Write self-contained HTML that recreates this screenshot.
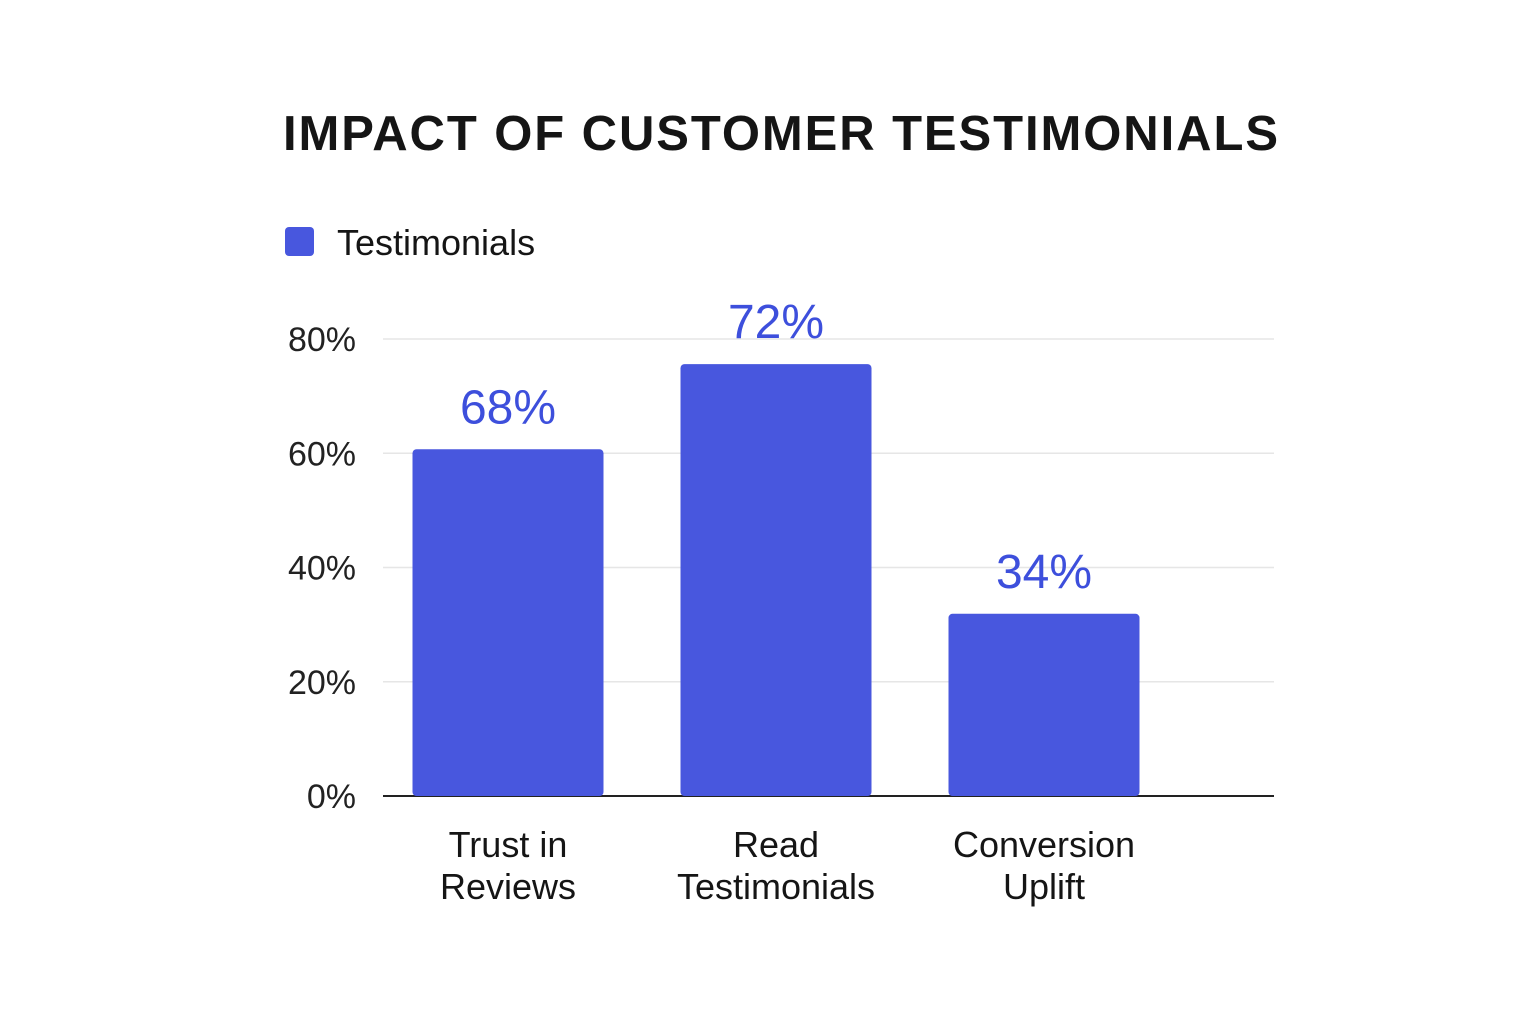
<!DOCTYPE html>
<html><head><meta charset="utf-8"><style>
body{margin:0;background:#fff;font-family:"Liberation Sans",sans-serif;}
svg{display:block}
</style></head><body>
<svg id="chart" width="1536" height="1024" viewBox="0 0 1536 1024">
<text x="283" y="150" font-size="49" font-weight="bold" fill="#151515" textLength="995">IMPACT OF CUSTOMER TESTIMONIALS</text>
<rect x="285" y="227" width="29" height="29" rx="4" fill="#4857de"/>
<text x="337" y="255" font-size="36" fill="#151515">Testimonials</text>
<g id="grid"></g><g id="bars"></g><g id="labels"></g>
</svg>
<script>
const categories = [["Trust in","Reviews"],["Read","Testimonials"],["Conversion","Uplift"]];
const values = [60.7, 75.6, 31.9];
const valueLabels = ["68%","72%","34%"];
const ticks = [0,20,40,60,80];
const tickLabels = ["0%","20%","40%","60%","80%"];

const NS="http://www.w3.org/2000/svg";
const x0=383,x1=1274,yBase=796,yTop=339,vMax=80;
const y=v=>yBase-(v/vMax)*(yBase-yTop);
const band=(x1-x0)/categories.length*0.92, bw=191;
const xc=i=>508+i*268;
function mk(tag,attrs,parent,txt){const e=document.createElementNS(NS,tag);for(const k in attrs)e.setAttribute(k,attrs[k]);if(txt!==undefined)e.textContent=txt;document.getElementById(parent).appendChild(e);return e;}
ticks.forEach((t,i)=>{
  const l=mk("line",{x1:x0,x2:x1,y1:y(t),y2:y(t),stroke:t===0?"#222":"#e6e6e6","stroke-width":t===0?2:1.5},"grid");
  
  
  const tx=mk("text",{x:356,y:y(t)+12,"font-size":34,"text-anchor":"end",fill:"#222"},"grid",tickLabels[i]);
  
  
});
values.forEach((v,i)=>{
  const r=mk("rect",{x:xc(i)-bw/2,y:y(v),width:bw,height:yBase-y(v),rx:4,fill:"#4857de"},"bars");
  
  
  const vl=mk("text",{x:xc(i),y:y(v)-26,"font-size":48,"text-anchor":"middle",fill:"#3d4fdc"},"labels",valueLabels[i]);
  
  
  categories[i].forEach((line,j)=>{
    const c=mk("text",{x:xc(i),y:857+j*42,"font-size":36,"text-anchor":"middle",fill:"#151515"},"labels",line);
    
    
  });
});
</script>
</body></html>
